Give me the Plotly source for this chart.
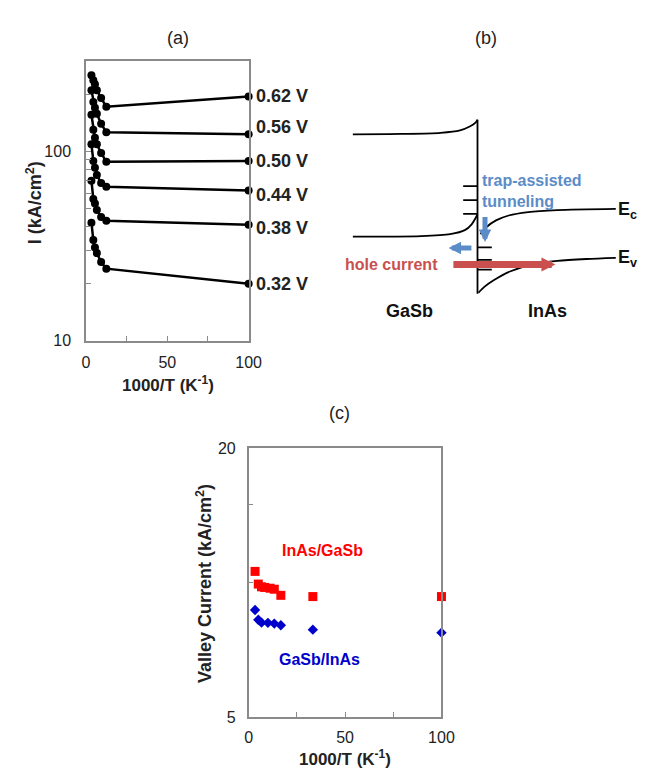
import plotly.graph_objects as go

W, H = 650, 770
FONT = "Liberation Sans"

# ---------------- data: panel (a) ----------------
inv_T_a = [3.33, 4.5, 5.5, 6.67, 9.3, 12.5, 100]
bias_labels = ["0.62 V", "0.56 V", "0.50 V", "0.44 V", "0.38 V", "0.32 V"]
I_062 = [252, 237, 226, 210, 191, 172, 195]
I_056 = [210, 182, 170, 158, 140, 126, 123]
I_050 = [156, 130, 118, 109, 98, 88, 89]
I_044 = [109, 89, 82, 75, 68, 65, 62]
I_038 = [70, 56, 53, 49, 45, 43, 41]
I_032 = [42, 34, 31, 29, 26, 24, 20]
series_a = [I_062, I_056, I_050, I_044, I_038, I_032]

# ---------------- data: panel (c) ----------------
inv_T_inas = [3.33, 5, 6.67, 8.33, 11.1, 13.3, 16.7, 33.3, 100]
valley_inas_gasb = [10.6, 9.93, 9.79, 9.76, 9.72, 9.67, 9.37, 9.31, 9.31]
inv_T_gasb = [3.33, 5, 6.67, 10, 13.3, 16.7, 33.3, 100]
valley_gasb_inas = [8.69, 8.26, 8.14, 8.13, 8.10, 8.03, 7.85, 7.73]

# ---------------- schematic: panel (b), points read in picture pixels ----------------
gasb_ec_x = [350, 400, 440, 460, 470, 476, 478]
gasb_ec_y = [121, 120.6, 119.5, 117, 113, 109, 106]
junction_x = [478, 478]
junction_y = [106, 284]
gasb_ev_x = [350, 420, 450, 465, 472, 478]
gasb_ev_y = [225.7, 225, 223, 219, 213, 203]
inas_ec_x = [481, 487, 497, 510, 530, 560, 620]
inas_ec_y = [223, 216, 209, 204, 200.5, 198.5, 197.3]
inas_ev_x = [479, 485, 495, 512, 535, 560, 590, 620]
inas_ev_y = [283, 277, 270, 261, 254, 250.5, 248.5, 247.3]
trap_left_y = [174, 188.3, 202.3]
trap_right_y = [236.7, 249.3, 259.3]


def px(x):
    return x / W


def py(y):
    return 1 - y / H


fig = go.Figure()

# panel (a) traces
for vals in series_a:
    fig.add_trace(go.Scatter(
        x=inv_T_a, y=vals, mode="lines+markers", xaxis="x", yaxis="y",
        line=dict(color="black", width=2.5),
        marker=dict(color="black", size=8, symbol="circle"),
        cliponaxis=False, showlegend=False))

# panel (c) traces
fig.add_trace(go.Scatter(
    x=inv_T_inas, y=valley_inas_gasb, mode="markers", xaxis="x2", yaxis="y2",
    marker=dict(color="#ff0000", size=9, symbol="square"),
    cliponaxis=False, showlegend=False))
fig.add_trace(go.Scatter(
    x=inv_T_gasb, y=valley_gasb_inas, mode="markers", xaxis="x2", yaxis="y2",
    marker=dict(color="#0000cc", size=8, symbol="diamond"),
    cliponaxis=False, showlegend=False))

# panel (b) lines
band_line = dict(color="black", width=1.8, shape="spline", smoothing=0.8)
for xs, ys in [(gasb_ec_x, gasb_ec_y), (gasb_ev_x, gasb_ev_y),
               (inas_ec_x, inas_ec_y), (inas_ev_x, inas_ev_y),
               (junction_x, junction_y)]:
    fig.add_trace(go.Scatter(x=xs, y=ys, mode="lines", xaxis="x3", yaxis="y3",
                             line=band_line, showlegend=False, hoverinfo="skip"))
for yv in trap_left_y:
    fig.add_trace(go.Scatter(x=[463.3, 478], y=[yv, yv], mode="lines", xaxis="x3", yaxis="y3",
                             line=dict(color="black", width=1.8), showlegend=False))
for yv in trap_right_y:
    fig.add_trace(go.Scatter(x=[478, 492.7], y=[yv, yv], mode="lines", xaxis="x3", yaxis="y3",
                             line=dict(color="black", width=1.8), showlegend=False))

frame = dict(showline=True, linecolor="#8a8a8a", linewidth=1.5, mirror=True,
             showgrid=False, zeroline=False, ticks="inside", ticklen=5,
             tickwidth=1.2, tickcolor="#8a8a8a",
             tickfont=dict(family=FONT, size=16, color="#222"))

fig.update_layout(
    width=W, height=H,
    margin=dict(l=0, r=0, t=0, b=0),
    paper_bgcolor="white", plot_bgcolor="white",
    font=dict(family=FONT, color="#222"),
    xaxis=dict(frame, domain=[px(76), px(243)], range=[0, 100],
               tickvals=[0, 50, 100], ticklabelstandoff=6,
               minor=dict(tickvals=[25, 75], ticks="inside", ticklen=5, tickcolor="#8a8a8a"),
               anchor="y"),
    yaxis=dict(frame, domain=[py(332), py(46)], type="log", range=[1, 2.477],
               tickvals=[10, 100], ticktext=["10", "100"], ticklabelstandoff=10,
               minor=dict(tickvals=[20, 30, 40, 50, 60, 70, 80, 90, 200, 300],
                          ticks="inside", ticklen=5, tickcolor="#8a8a8a"),
               anchor="x"),
    xaxis2=dict(frame, domain=[px(243), px(441)], range=[0, 100],
                tickvals=[0, 50, 100], ticklabelstandoff=5,
                minor=dict(tickvals=[25, 75], ticks="inside", ticklen=5, tickcolor="#8a8a8a"),
                anchor="y2"),
    yaxis2=dict(frame, domain=[py(717), py(442)], type="log", range=[0.69897, 1.30103],
                tickvals=[5, 20], ticktext=["5", "20"], ticklabelstandoff=8,
                minor=dict(tickvals=[10, 15], ticks="inside", ticklen=5, tickcolor="#8a8a8a"),
                anchor="x2"),
    xaxis3=dict(domain=[px(320), 1], range=[320, 650], visible=False, anchor="y3"),
    yaxis3=dict(domain=[py(380), 1], range=[380, 0], visible=False, anchor="x3"),
)

ann = []


def label(text, x, y, size, color="#222", xanchor="center", angle=0):
    ann.append(dict(text=text, x=px(x), y=py(y), xref="paper", yref="paper",
                    showarrow=False, xanchor=xanchor, yanchor="middle", textangle=angle,
                    font=dict(family=FONT, size=size, color=color)))


# panel titles
label("(a)", 170, 22, 18)
label("(b)", 487, 22, 18)
label("(c)", 336, 406, 18)

# panel (a) axis titles
label("<b>I (kA/cm<sup>2</sup>)</b>", 23, 191, 18, angle=-90)
label("<b>1000/T (K<sup>-1</sup>)</b>", 160, 376, 17)
# bias labels
bias_label_y = [82, 113, 148, 183, 217, 274]
for t, yy in zip(bias_labels, bias_label_y):
    label("<b>%s</b>" % t, 249, yy, 18, xanchor="left")

# panel (c) axis titles and series labels
label("<b>Valley Current (kA/cm<sup>2</sup>)</b>", 197, 580, 18, angle=-90)
label("<b>1000/T (K<sup>-1</sup>)</b>", 342, 759, 17)
label("<b>InAs/GaSb</b>", 319, 547, 16, color="#ff0000")
label("<b>GaSb/InAs</b>", 316, 658, 16, color="#0000cc")

# panel (b) texts (axis x3/y3 in picture pixels)
BLUE = "#5b8cc8"
RED = "#c9504e"


def btext(text, x, y, size, color="#111", xanchor="center", align="center"):
    ann.append(dict(text=text, x=x, y=y, xref="x3", yref="y3", showarrow=False,
                    xanchor=xanchor, yanchor="middle", align=align,
                    font=dict(family=FONT, size=size, color=color)))


btext("<b>trap-assisted<br>tunneling</b>", 481, 179, 16, color=BLUE, xanchor="left", align="left")
btext("<b>hole current</b>", 390, 254, 16, color=RED)
btext("<b>GaSb</b>", 408, 302, 18)
btext("<b>InAs</b>", 550, 302, 18)
btext("<b>E<sub>c</sub></b>", 620, 199, 18, xanchor="left")
btext("<b>E<sub>v</sub></b>", 620, 248, 18, xanchor="left")


def barrow(x0, y0, x1, y1, color, width, size):
    ann.append(dict(text="", x=x1, y=y1, ax=x0, ay=y0, xref="x3", yref="y3",
                    axref="x3", ayref="y3", showarrow=True, arrowhead=2,
                    arrowsize=size, arrowwidth=width, arrowcolor=color))


barrow(485.7, 204, 485.7, 231, BLUE, 5, 0.5)
barrow(473.3, 237.3, 448.3, 237.3, BLUE, 5, 0.5)
barrow(451.7, 254, 558, 254, RED, 7, 0.4)

fig.update_layout(annotations=ann)

fig.write_html("out.html")
